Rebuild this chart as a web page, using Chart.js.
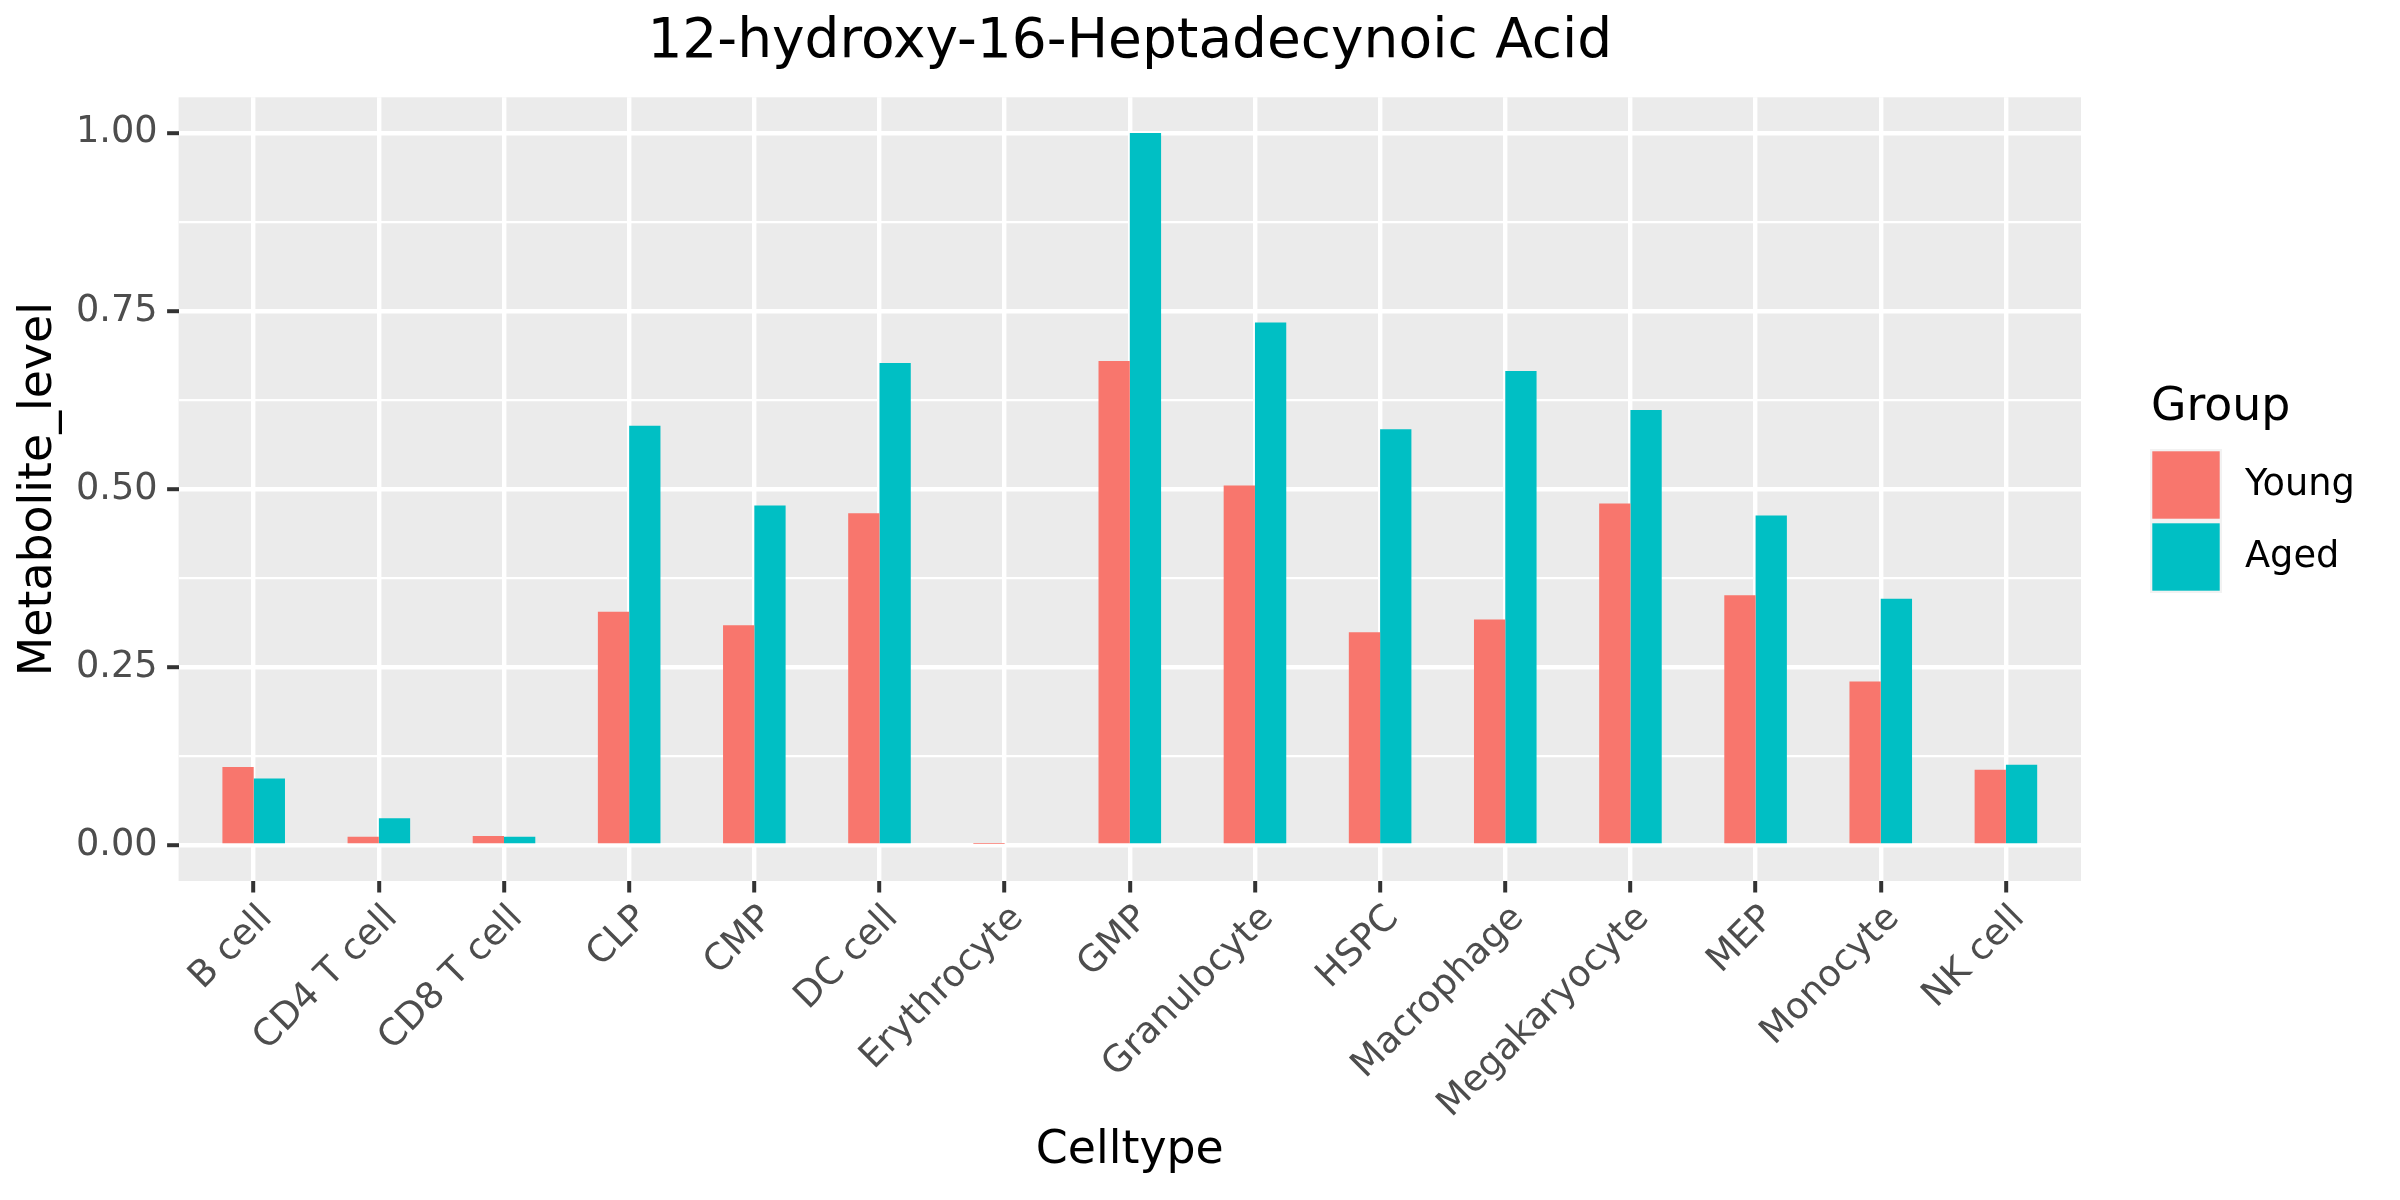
<!DOCTYPE html>
<html>
<head>
<meta charset="utf-8">
<script src="https://cdn.jsdelivr.net/npm/chart.js@4"></script>
<style>
  html, body { margin: 0; padding: 0; background: #ffffff; }
  #wrap { width: 2400px; height: 1200px; }
</style>
</head>
<body>
<div id="wrap"><canvas id="c" width="2400" height="1200" style="width:2400px;height:1200px"></canvas></div>
<script>
const chartTitle = '12-hydroxy-16-Heptadecynoic Acid';
const xTitle = 'Celltype';
const yTitle = 'Metabolite_level';
const legendTitle = 'Group';
const categories = ['B cell','CD4 T cell','CD8 T cell','CLP','CMP','DC cell','Erythrocyte','GMP','Granulocyte','HSPC','Macrophage','Megakaryocyte','MEP','Monocyte','NK cell'];
const seriesNames = ['Young', 'Aged'];
const youngValues = [0.110, 0.012, 0.013, 0.328, 0.309, 0.466, 0.002, 0.680, 0.505, 0.299, 0.317, 0.480, 0.351, 0.230, 0.106];
const agedValues  = [0.094, 0.038, 0.012, 0.589, 0.477, 0.677, 0.000, 1.000, 0.734, 0.584, 0.666, 0.611, 0.463, 0.346, 0.113];
const yMajorTicks = [0, 0.25, 0.5, 0.75, 1.0];
const yMinorTicks = [0.125, 0.375, 0.625, 0.875];
const seriesColors = ['#F8766D', '#00BFC4'];

const FONT = "'DejaVu Sans', 'Liberation Sans', sans-serif";

const panelBg = {
  id: 'panelBg',
  beforeDraw(chart) {
    const {ctx, chartArea: a} = chart;
    ctx.save();
    ctx.fillStyle = '#ffffff';
    ctx.fillRect(0, 0, chart.width, chart.height);
    ctx.fillStyle = '#EBEBEB';
    ctx.fillRect(a.left, a.top, a.right - a.left, a.bottom - a.top);
    ctx.restore();
  }
};

const ggLegend = {
  id: 'ggLegend',
  afterDraw(chart) {
    const ctx = chart.ctx;
    const x0 = 2150, keyTop = 449, key = 72;
    ctx.save();
    ctx.fillStyle = '#000000';
    ctx.textAlign = 'left';
    ctx.textBaseline = 'middle';
    ctx.font = '45.8px ' + FONT;
    ctx.fillText(legendTitle, x0 + 1, 408);
    chart.data.datasets.forEach((ds, i) => {
      const y = keyTop + i * key;
      ctx.fillStyle = '#F2F2F2';
      ctx.fillRect(x0, y, key, key);
      ctx.fillStyle = ds.backgroundColor;
      ctx.fillRect(x0 + 2.3, y + 2.3, key - 4.6, key - 4.6);
      ctx.fillStyle = '#000000';
      ctx.font = '36.7px ' + FONT;
      ctx.fillText(ds.label, 2245, y + key / 2);
    });
    ctx.restore();
  }
};

const toPoints = vals => vals.map((v, i) => ({x: i + 1, y: v}));

new Chart(document.getElementById('c'), {
  type: 'bar',
  data: {
    datasets: [
      { label: seriesNames[0], data: toPoints(youngValues), backgroundColor: seriesColors[0], borderWidth: 0, categoryPercentage: 0.5, barPercentage: 1.0 },
      { label: seriesNames[1], data: toPoints(agedValues),  backgroundColor: seriesColors[1], borderWidth: 0, categoryPercentage: 0.5, barPercentage: 1.0 }
    ]
  },
  options: {
    responsive: false,
    devicePixelRatio: 1,
    animation: false,
    layout: { padding: { left: 0, right: 319, top: 0, bottom: 0 } },
    plugins: {
      legend: { display: false },
      tooltip: { enabled: false },
      title: {
        display: true,
        text: chartTitle,
        fullSize: false,
        color: '#000000',
        font: { family: FONT, size: 55, weight: 'normal', lineHeight: 1.2 },
        padding: { top: 10, bottom: 21.3 }
      }
    },
    scales: {
      x: {
        type: 'linear',
        min: 0.4,
        max: 15.6,
        offset: false,
        afterBuildTicks(scale) { scale.ticks = categories.map((c, i) => ({ value: i + 1 })); },
        afterFit(scale) { scale.height = 319; },
        ticks: {
          autoSkip: false,
          minRotation: 45,
          maxRotation: 45,
          padding: 4.5,
          labelOffset: 13,
          color: '#4D4D4D',
          font: { family: FONT, size: 36.7 },
          callback: (v) => categories[Math.round(v) - 1]
        },
        grid: {
          offset: false,
          color: '#ffffff',
          lineWidth: 4.4,
          drawTicks: true,
          tickLength: 11.5,
          tickColor: '#333333',
          tickWidth: 4
        },
        border: { display: false },
        title: {
          display: true,
          text: xTitle,
          color: '#000000',
          font: { family: FONT, size: 45.8 },
          padding: { top: 0, bottom: 21.5 }
        }
      },
      y: {
        type: 'linear',
        min: -0.05,
        max: 1.05,
        afterBuildTicks(scale) {
          scale.ticks = yMajorTicks.concat(yMinorTicks).sort((a, b) => a - b).map(v => ({ value: v }));
        },
        afterFit(scale) { scale.width = 178.6; },
        ticks: {
          padding: 9.5,
          color: '#4D4D4D',
          font: { family: FONT, size: 36.7 },
          callback: (v) => yMajorTicks.includes(v) ? v.toFixed(2) : ''
        },
        grid: {
          color: '#ffffff',
          lineWidth: (ctx) => (ctx.tick && yMajorTicks.includes(ctx.tick.value)) ? 4.4 : 2.2,
          drawTicks: true,
          tickLength: 11.5,
          tickColor: (ctx) => (ctx.tick && yMajorTicks.includes(ctx.tick.value)) ? '#333333' : 'rgba(0,0,0,0)',
          tickWidth: 4
        },
        border: { display: false },
        title: {
          display: true,
          text: yTitle,
          color: '#000000',
          font: { family: FONT, size: 45.8 },
          padding: { top: 12, bottom: 0 }
        }
      }
    }
  },
  plugins: [panelBg, ggLegend]
});
</script>
</body>
</html>
